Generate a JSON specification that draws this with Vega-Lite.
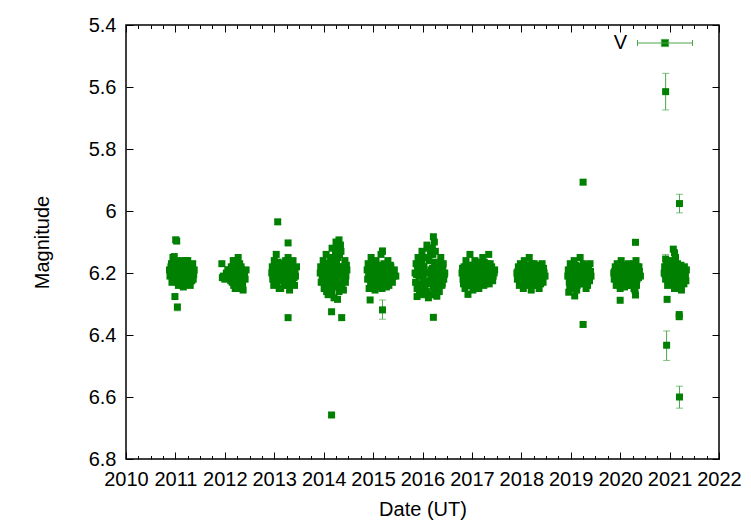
{
  "$schema": "https://vega.github.io/schema/vega-lite/v6.json",
  "width": 593,
  "height": 434,
  "autosize": {"type": "none"},
  "padding": {"left": 126, "top": 25, "right": 32, "bottom": 67},
  "background": "white",
  "config": {
    "view": {"stroke": "black", "strokeWidth": 1.5},
    "font": "Liberation Sans",
    "axis": {"domain": false, "grid": false, "tickColor": "black", "tickWidth": 1, "labelColor": "black", "titleColor": "black", "labelFont": "Liberation Sans", "titleFont": "Liberation Sans", "labelFontSize": 20, "titleFontSize": 20, "titleFontWeight": "normal"}
  },
  "data": {"values": [
    {"t":2010.88,"m":6.19},{"t":2010.89,"m":6.21},{"t":2010.90,"m":6.20},{"t":2010.92,"m":6.17},{"t":2010.93,"m":6.23},{"t":2010.95,"m":6.15},{"t":2010.96,"m":6.20},{"t":2010.98,"m":6.18},{"t":2011.00,"m":6.22},{"t":2011.01,"m":6.19},{"t":2011.03,"m":6.16},{"t":2011.05,"m":6.21},{"t":2011.06,"m":6.24},{"t":2011.08,"m":6.19},{"t":2011.10,"m":6.17},{"t":2011.12,"m":6.22},{"t":2011.14,"m":6.20},{"t":2011.16,"m":6.245},{"t":2011.18,"m":6.18},{"t":2011.20,"m":6.21},{"t":2011.22,"m":6.16},{"t":2011.24,"m":6.23},{"t":2011.26,"m":6.19},{"t":2011.28,"m":6.21},{"t":2011.30,"m":6.24},{"t":2011.32,"m":6.18},{"t":2011.34,"m":6.20},{"t":2011.36,"m":6.22},{"t":2011.38,"m":6.19},{"t":2011.25,"m":6.16},{"t":2011.15,"m":6.24},
    {"t":2010.91,"m":6.18},{"t":2010.94,"m":6.20},{"t":2010.97,"m":6.225},{"t":2010.99,"m":6.20},{"t":2011.02,"m":6.175},{"t":2011.04,"m":6.23},{"t":2011.07,"m":6.20},{"t":2011.09,"m":6.225},{"t":2011.11,"m":6.19},{"t":2011.13,"m":6.16},{"t":2011.17,"m":6.215},{"t":2011.19,"m":6.235},{"t":2011.21,"m":6.19},{"t":2011.23,"m":6.205},{"t":2011.27,"m":6.23},{"t":2011.29,"m":6.175},{"t":2011.31,"m":6.205},{"t":2011.33,"m":6.225},{"t":2011.35,"m":6.17},{"t":2011.37,"m":6.205},
    {"t":2011.006,"m":6.093,"lo":6.085,"hi":6.101},{"t":2011.026,"m":6.097},{"t":2010.977,"m":6.147},{"t":2010.99,"m":6.276},{"t":2011.04,"m":6.31,"lo":6.300,"hi":6.322},
    {"t":2011.94,"m":6.17},{"t":2011.95,"m":6.215},{"t":2011.97,"m":6.21},{"t":2012.00,"m":6.22},{"t":2012.03,"m":6.20},{"t":2012.06,"m":6.19},{"t":2012.10,"m":6.21},{"t":2012.13,"m":6.18},{"t":2012.15,"m":6.23},{"t":2012.17,"m":6.16},{"t":2012.19,"m":6.20},{"t":2012.21,"m":6.25},{"t":2012.23,"m":6.19},{"t":2012.25,"m":6.22},{"t":2012.27,"m":6.15},{"t":2012.29,"m":6.24},{"t":2012.31,"m":6.20},{"t":2012.33,"m":6.18},{"t":2012.35,"m":6.22},{"t":2012.37,"m":6.255},{"t":2012.40,"m":6.21},{"t":2012.43,"m":6.19},{"t":2012.30,"m":6.17},{"t":2012.26,"m":6.25},
    {"t":2012.08,"m":6.19},{"t":2012.12,"m":6.225},{"t":2012.16,"m":6.20},{"t":2012.20,"m":6.175},{"t":2012.24,"m":6.205},{"t":2012.28,"m":6.23},{"t":2012.32,"m":6.21},{"t":2012.34,"m":6.19},{"t":2012.36,"m":6.235},{"t":2012.38,"m":6.20},{"t":2012.41,"m":6.22},{"t":2012.22,"m":6.16},{"t":2012.18,"m":6.24},
    {"t":2012.95,"m":6.20},{"t":2012.96,"m":6.18},{"t":2012.97,"m":6.22},{"t":2012.99,"m":6.24},{"t":2013.00,"m":6.16},{"t":2013.02,"m":6.20},{"t":2013.04,"m":6.14},{"t":2013.05,"m":6.23},{"t":2013.07,"m":6.19},{"t":2013.09,"m":6.21},{"t":2013.11,"m":6.17},{"t":2013.13,"m":6.25},{"t":2013.15,"m":6.20},{"t":2013.17,"m":6.22},{"t":2013.19,"m":6.18},{"t":2013.21,"m":6.24},{"t":2013.23,"m":6.16},{"t":2013.25,"m":6.21},{"t":2013.27,"m":6.19},{"t":2013.29,"m":6.23},{"t":2013.31,"m":6.255},{"t":2013.33,"m":6.20},{"t":2013.35,"m":6.17},{"t":2013.37,"m":6.22},{"t":2013.39,"m":6.19},{"t":2013.41,"m":6.24},{"t":2013.43,"m":6.21},{"t":2013.45,"m":6.18},{"t":2013.10,"m":6.25},{"t":2013.28,"m":6.15},
    {"t":2012.98,"m":6.21},{"t":2013.01,"m":6.185},{"t":2013.03,"m":6.23},{"t":2013.06,"m":6.205},{"t":2013.08,"m":6.165},{"t":2013.12,"m":6.195},{"t":2013.14,"m":6.225},{"t":2013.16,"m":6.17},{"t":2013.18,"m":6.205},{"t":2013.20,"m":6.23},{"t":2013.22,"m":6.195},{"t":2013.24,"m":6.24},{"t":2013.26,"m":6.175},{"t":2013.30,"m":6.21},{"t":2013.32,"m":6.18},{"t":2013.34,"m":6.235},{"t":2013.36,"m":6.20},{"t":2013.38,"m":6.16},{"t":2013.40,"m":6.215},{"t":2013.42,"m":6.19},
    {"t":2013.07,"m":6.035,"lo":6.027,"hi":6.043},{"t":2013.28,"m":6.103},{"t":2013.28,"m":6.344},
    {"t":2013.93,"m":6.20},{"t":2013.94,"m":6.18},{"t":2013.95,"m":6.23},{"t":2013.97,"m":6.21},{"t":2013.99,"m":6.16},{"t":2014.01,"m":6.25},{"t":2014.03,"m":6.19},{"t":2014.05,"m":6.14},{"t":2014.07,"m":6.22},{"t":2014.09,"m":6.27},{"t":2014.11,"m":6.20},{"t":2014.13,"m":6.17},{"t":2014.15,"m":6.24},{"t":2014.17,"m":6.12},{"t":2014.19,"m":6.21},{"t":2014.21,"m":6.28},{"t":2014.23,"m":6.18},{"t":2014.25,"m":6.10},{"t":2014.27,"m":6.23},{"t":2014.29,"m":6.15},{"t":2014.31,"m":6.26},{"t":2014.33,"m":6.20},{"t":2014.35,"m":6.13},{"t":2014.37,"m":6.24},{"t":2014.39,"m":6.18},{"t":2014.41,"m":6.22},{"t":2014.43,"m":6.16},{"t":2014.45,"m":6.21},{"t":2014.47,"m":6.19},{"t":2014.12,"m":6.26},{"t":2014.28,"m":6.285},{"t":2014.20,"m":6.16},
    {"t":2013.96,"m":6.195},{"t":2013.98,"m":6.225},{"t":2014.00,"m":6.18},{"t":2014.02,"m":6.215},{"t":2014.04,"m":6.245},{"t":2014.06,"m":6.17},{"t":2014.08,"m":6.20},{"t":2014.10,"m":6.235},{"t":2014.14,"m":6.19},{"t":2014.16,"m":6.265},{"t":2014.18,"m":6.225},{"t":2014.22,"m":6.20},{"t":2014.24,"m":6.245},{"t":2014.26,"m":6.165},{"t":2014.28,"m":6.12},{"t":2014.30,"m":6.21},{"t":2014.32,"m":6.14},{"t":2014.34,"m":6.235},{"t":2014.36,"m":6.18},{"t":2014.38,"m":6.20},{"t":2014.40,"m":6.255},{"t":2014.42,"m":6.19},{"t":2014.44,"m":6.23},{"t":2014.46,"m":6.175},{"t":2014.34,"m":6.11},{"t":2014.24,"m":6.14},{"t":2014.14,"m":6.15},{"t":2014.06,"m":6.26},
    {"t":2014.31,"m":6.094,"lo":6.083,"hi":6.104},{"t":2014.16,"m":6.325},{"t":2014.365,"m":6.344,"lo":6.336,"hi":6.352},{"t":2014.16,"m":6.658,"lo":6.651,"hi":6.665},
    {"t":2014.88,"m":6.19},{"t":2014.89,"m":6.22},{"t":2014.90,"m":6.17},{"t":2014.92,"m":6.25},{"t":2014.94,"m":6.20},{"t":2014.96,"m":6.15},{"t":2014.98,"m":6.23},{"t":2015.00,"m":6.18},{"t":2015.02,"m":6.21},{"t":2015.04,"m":6.255},{"t":2015.06,"m":6.16},{"t":2015.08,"m":6.20},{"t":2015.10,"m":6.24},{"t":2015.12,"m":6.19},{"t":2015.14,"m":6.22},{"t":2015.16,"m":6.14},{"t":2015.18,"m":6.25},{"t":2015.20,"m":6.20},{"t":2015.22,"m":6.17},{"t":2015.24,"m":6.23},{"t":2015.26,"m":6.19},{"t":2015.28,"m":6.21},{"t":2015.30,"m":6.16},{"t":2015.32,"m":6.24},{"t":2015.34,"m":6.20},{"t":2015.36,"m":6.18},{"t":2015.38,"m":6.22},{"t":2015.40,"m":6.20},{"t":2015.43,"m":6.19},{"t":2015.46,"m":6.21},
    {"t":2014.91,"m":6.205},{"t":2014.93,"m":6.18},{"t":2014.95,"m":6.235},{"t":2014.97,"m":6.195},{"t":2014.99,"m":6.21},{"t":2015.01,"m":6.235},{"t":2015.03,"m":6.17},{"t":2015.05,"m":6.20},{"t":2015.07,"m":6.225},{"t":2015.09,"m":6.18},{"t":2015.11,"m":6.21},{"t":2015.13,"m":6.245},{"t":2015.15,"m":6.175},{"t":2015.17,"m":6.205},{"t":2015.21,"m":6.235},{"t":2015.23,"m":6.19},{"t":2015.25,"m":6.215},{"t":2015.27,"m":6.245},{"t":2015.29,"m":6.185},{"t":2015.31,"m":6.20},{"t":2015.33,"m":6.225},{"t":2015.35,"m":6.175},{"t":2015.37,"m":6.205},{"t":2015.39,"m":6.23},{"t":2015.42,"m":6.21},
    {"t":2015.19,"m":6.13,"lo":6.118,"hi":6.14},{"t":2014.94,"m":6.287},{"t":2015.19,"m":6.319,"lo":6.287,"hi":6.349},
    {"t":2015.85,"m":6.20},{"t":2015.86,"m":6.23},{"t":2015.87,"m":6.17},{"t":2015.89,"m":6.25},{"t":2015.91,"m":6.15},{"t":2015.93,"m":6.21},{"t":2015.95,"m":6.19},{"t":2015.97,"m":6.265},{"t":2015.99,"m":6.13},{"t":2016.01,"m":6.22},{"t":2016.03,"m":6.18},{"t":2016.05,"m":6.25},{"t":2016.07,"m":6.20},{"t":2016.09,"m":6.11},{"t":2016.11,"m":6.23},{"t":2016.13,"m":6.16},{"t":2016.15,"m":6.27},{"t":2016.17,"m":6.19},{"t":2016.19,"m":6.22},{"t":2016.21,"m":6.14},{"t":2016.23,"m":6.25},{"t":2016.25,"m":6.18},{"t":2016.27,"m":6.21},{"t":2016.29,"m":6.275},{"t":2016.31,"m":6.17},{"t":2016.33,"m":6.23},{"t":2016.35,"m":6.20},{"t":2016.37,"m":6.15},{"t":2016.39,"m":6.24},{"t":2016.41,"m":6.19},{"t":2016.43,"m":6.22},{"t":2016.45,"m":6.20},{"t":2016.10,"m":6.12},{"t":2016.28,"m":6.26},{"t":2016.18,"m":6.27},
    {"t":2015.88,"m":6.205},{"t":2015.90,"m":6.18},{"t":2015.92,"m":6.235},{"t":2015.94,"m":6.255},{"t":2015.96,"m":6.20},{"t":2015.98,"m":6.165},{"t":2016.00,"m":6.24},{"t":2016.02,"m":6.195},{"t":2016.04,"m":6.15},{"t":2016.06,"m":6.225},{"t":2016.08,"m":6.26},{"t":2016.12,"m":6.20},{"t":2016.14,"m":6.235},{"t":2016.16,"m":6.14},{"t":2016.18,"m":6.21},{"t":2016.20,"m":6.185},{"t":2016.22,"m":6.245},{"t":2016.24,"m":6.165},{"t":2016.26,"m":6.225},{"t":2016.28,"m":6.195},{"t":2016.30,"m":6.24},{"t":2016.32,"m":6.20},{"t":2016.34,"m":6.26},{"t":2016.36,"m":6.18},{"t":2016.38,"m":6.215},{"t":2016.40,"m":6.235},{"t":2016.42,"m":6.17},{"t":2016.44,"m":6.205},{"t":2016.20,"m":6.12},{"t":2016.24,"m":6.10},{"t":2016.26,"m":6.13},{"t":2015.98,"m":6.27},{"t":2016.12,"m":6.28},
    {"t":2016.22,"m":6.083},{"t":2016.22,"m":6.343},{"t":2015.89,"m":6.276},
    {"t":2016.80,"m":6.20},{"t":2016.82,"m":6.22},{"t":2016.84,"m":6.18},{"t":2016.86,"m":6.25},{"t":2016.88,"m":6.16},{"t":2016.90,"m":6.21},{"t":2016.92,"m":6.19},{"t":2016.94,"m":6.24},{"t":2016.96,"m":6.14},{"t":2016.98,"m":6.22},{"t":2017.00,"m":6.18},{"t":2017.02,"m":6.255},{"t":2017.04,"m":6.20},{"t":2017.06,"m":6.16},{"t":2017.08,"m":6.23},{"t":2017.10,"m":6.19},{"t":2017.12,"m":6.21},{"t":2017.14,"m":6.25},{"t":2017.16,"m":6.17},{"t":2017.18,"m":6.22},{"t":2017.20,"m":6.20},{"t":2017.22,"m":6.15},{"t":2017.24,"m":6.24},{"t":2017.26,"m":6.19},{"t":2017.28,"m":6.21},{"t":2017.30,"m":6.17},{"t":2017.32,"m":6.23},{"t":2017.34,"m":6.14},{"t":2017.36,"m":6.20},{"t":2017.38,"m":6.22},{"t":2017.40,"m":6.18},{"t":2017.43,"m":6.21},{"t":2017.46,"m":6.19},
    {"t":2016.81,"m":6.185},{"t":2016.83,"m":6.235},{"t":2016.85,"m":6.205},{"t":2016.87,"m":6.22},{"t":2016.89,"m":6.185},{"t":2016.91,"m":6.24},{"t":2016.93,"m":6.215},{"t":2016.95,"m":6.175},{"t":2016.97,"m":6.20},{"t":2016.99,"m":6.24},{"t":2017.01,"m":6.21},{"t":2017.03,"m":6.175},{"t":2017.05,"m":6.23},{"t":2017.07,"m":6.205},{"t":2017.09,"m":6.165},{"t":2017.11,"m":6.24},{"t":2017.13,"m":6.185},{"t":2017.15,"m":6.215},{"t":2017.17,"m":6.235},{"t":2017.19,"m":6.18},{"t":2017.21,"m":6.225},{"t":2017.23,"m":6.195},{"t":2017.25,"m":6.165},{"t":2017.27,"m":6.235},{"t":2017.29,"m":6.20},{"t":2017.31,"m":6.215},{"t":2017.33,"m":6.185},{"t":2017.35,"m":6.235},{"t":2017.37,"m":6.17},{"t":2017.39,"m":6.205},{"t":2017.42,"m":6.225},{"t":2017.45,"m":6.20},
    {"t":2016.92,"m":6.269},
    {"t":2017.91,"m":6.20},{"t":2017.92,"m":6.22},{"t":2017.94,"m":6.18},{"t":2017.96,"m":6.24},{"t":2017.98,"m":6.17},{"t":2018.00,"m":6.21},{"t":2018.02,"m":6.19},{"t":2018.04,"m":6.25},{"t":2018.06,"m":6.16},{"t":2018.08,"m":6.22},{"t":2018.10,"m":6.20},{"t":2018.12,"m":6.18},{"t":2018.14,"m":6.23},{"t":2018.16,"m":6.15},{"t":2018.18,"m":6.21},{"t":2018.20,"m":6.255},{"t":2018.22,"m":6.19},{"t":2018.24,"m":6.22},{"t":2018.26,"m":6.17},{"t":2018.28,"m":6.24},{"t":2018.30,"m":6.20},{"t":2018.32,"m":6.18},{"t":2018.34,"m":6.22},{"t":2018.36,"m":6.25},{"t":2018.38,"m":6.19},{"t":2018.40,"m":6.21},{"t":2018.42,"m":6.17},{"t":2018.44,"m":6.23},{"t":2018.46,"m":6.20},{"t":2018.48,"m":6.21},
    {"t":2017.93,"m":6.195},{"t":2017.95,"m":6.21},{"t":2017.97,"m":6.23},{"t":2017.99,"m":6.195},{"t":2018.01,"m":6.235},{"t":2018.03,"m":6.175},{"t":2018.05,"m":6.21},{"t":2018.07,"m":6.19},{"t":2018.09,"m":6.24},{"t":2018.11,"m":6.205},{"t":2018.13,"m":6.175},{"t":2018.15,"m":6.22},{"t":2018.17,"m":6.19},{"t":2018.19,"m":6.235},{"t":2018.21,"m":6.17},{"t":2018.23,"m":6.205},{"t":2018.25,"m":6.24},{"t":2018.27,"m":6.195},{"t":2018.29,"m":6.22},{"t":2018.31,"m":6.175},{"t":2018.33,"m":6.235},{"t":2018.35,"m":6.205},{"t":2018.37,"m":6.185},{"t":2018.39,"m":6.235},{"t":2018.41,"m":6.20},{"t":2018.43,"m":6.215},{"t":2018.45,"m":6.185},
    {"t":2018.94,"m":6.21},{"t":2018.95,"m":6.19},{"t":2018.97,"m":6.23},{"t":2018.99,"m":6.17},{"t":2019.01,"m":6.22},{"t":2019.03,"m":6.20},{"t":2019.05,"m":6.25},{"t":2019.07,"m":6.16},{"t":2019.09,"m":6.21},{"t":2019.11,"m":6.19},{"t":2019.13,"m":6.24},{"t":2019.15,"m":6.18},{"t":2019.17,"m":6.22},{"t":2019.19,"m":6.15},{"t":2019.21,"m":6.20},{"t":2019.23,"m":6.23},{"t":2019.25,"m":6.17},{"t":2019.27,"m":6.21},{"t":2019.29,"m":6.19},{"t":2019.31,"m":6.25},{"t":2019.33,"m":6.18},{"t":2019.35,"m":6.22},{"t":2019.37,"m":6.20},{"t":2019.39,"m":6.17},{"t":2019.41,"m":6.21},{"t":2019.12,"m":6.255},
    {"t":2018.96,"m":6.20},{"t":2018.98,"m":6.245},{"t":2019.00,"m":6.195},{"t":2019.02,"m":6.235},{"t":2019.04,"m":6.18},{"t":2019.06,"m":6.215},{"t":2019.08,"m":6.235},{"t":2019.10,"m":6.175},{"t":2019.14,"m":6.205},{"t":2019.16,"m":6.235},{"t":2019.18,"m":6.195},{"t":2019.20,"m":6.225},{"t":2019.22,"m":6.18},{"t":2019.24,"m":6.21},{"t":2019.26,"m":6.235},{"t":2019.28,"m":6.20},{"t":2019.30,"m":6.175},{"t":2019.32,"m":6.215},{"t":2019.34,"m":6.24},{"t":2019.36,"m":6.19},{"t":2019.38,"m":6.225},{"t":2019.40,"m":6.195},
    {"t":2019.25,"m":5.907,"lo":5.900,"hi":5.914},{"t":2019.25,"m":6.366,"lo":6.358,"hi":6.374},{"t":2019.08,"m":6.274},{"t":2018.96,"m":6.262},
    {"t":2019.87,"m":6.20},{"t":2019.88,"m":6.22},{"t":2019.90,"m":6.18},{"t":2019.92,"m":6.24},{"t":2019.94,"m":6.17},{"t":2019.96,"m":6.21},{"t":2019.98,"m":6.19},{"t":2020.00,"m":6.25},{"t":2020.02,"m":6.16},{"t":2020.04,"m":6.22},{"t":2020.06,"m":6.20},{"t":2020.08,"m":6.18},{"t":2020.10,"m":6.23},{"t":2020.12,"m":6.19},{"t":2020.14,"m":6.21},{"t":2020.16,"m":6.17},{"t":2020.18,"m":6.24},{"t":2020.20,"m":6.20},{"t":2020.22,"m":6.22},{"t":2020.24,"m":6.18},{"t":2020.26,"m":6.21},{"t":2020.28,"m":6.25},{"t":2020.30,"m":6.19},{"t":2020.32,"m":6.16},{"t":2020.34,"m":6.22},{"t":2020.36,"m":6.20},{"t":2020.38,"m":6.18},{"t":2020.41,"m":6.21},{"t":2020.30,"m":6.255},
    {"t":2019.89,"m":6.195},{"t":2019.91,"m":6.215},{"t":2019.93,"m":6.20},{"t":2019.95,"m":6.235},{"t":2019.97,"m":6.18},{"t":2019.99,"m":6.215},{"t":2020.01,"m":6.20},{"t":2020.03,"m":6.235},{"t":2020.05,"m":6.18},{"t":2020.07,"m":6.21},{"t":2020.09,"m":6.245},{"t":2020.11,"m":6.20},{"t":2020.13,"m":6.175},{"t":2020.15,"m":6.23},{"t":2020.17,"m":6.195},{"t":2020.19,"m":6.215},{"t":2020.21,"m":6.18},{"t":2020.23,"m":6.24},{"t":2020.25,"m":6.195},{"t":2020.27,"m":6.17},{"t":2020.29,"m":6.22},{"t":2020.31,"m":6.20},{"t":2020.33,"m":6.24},{"t":2020.35,"m":6.18},{"t":2020.37,"m":6.215},{"t":2020.39,"m":6.195},
    {"t":2020.31,"m":6.101},{"t":2020.00,"m":6.288},{"t":2020.31,"m":6.271},
    {"t":2020.89,"m":6.20},{"t":2020.90,"m":6.18},{"t":2020.92,"m":6.22},{"t":2020.94,"m":6.17},{"t":2020.96,"m":6.24},{"t":2020.98,"m":6.19},{"t":2021.00,"m":6.21},{"t":2021.02,"m":6.16},{"t":2021.04,"m":6.23},{"t":2021.06,"m":6.20},{"t":2021.08,"m":6.18},{"t":2021.10,"m":6.25},{"t":2021.12,"m":6.19},{"t":2021.14,"m":6.22},{"t":2021.16,"m":6.17},{"t":2021.18,"m":6.21},{"t":2021.20,"m":6.24},{"t":2021.22,"m":6.19},{"t":2021.24,"m":6.255},{"t":2021.26,"m":6.20},{"t":2021.28,"m":6.22},{"t":2021.30,"m":6.18},{"t":2021.32,"m":6.21},{"t":2021.34,"m":6.19},{"t":2021.12,"m":6.15},
    {"t":2020.91,"m":6.205},{"t":2020.93,"m":6.19},{"t":2020.95,"m":6.215},{"t":2020.97,"m":6.18},{"t":2020.99,"m":6.225},{"t":2021.01,"m":6.195},{"t":2021.03,"m":6.21},{"t":2021.05,"m":6.18},{"t":2021.07,"m":6.235},{"t":2021.09,"m":6.205},{"t":2021.11,"m":6.17},{"t":2021.13,"m":6.235},{"t":2021.15,"m":6.20},{"t":2021.17,"m":6.24},{"t":2021.19,"m":6.19},{"t":2021.21,"m":6.215},{"t":2021.23,"m":6.175},{"t":2021.25,"m":6.225},{"t":2021.27,"m":6.195},{"t":2021.29,"m":6.235},{"t":2021.31,"m":6.20},{"t":2021.33,"m":6.225},
    {"t":2020.92,"m":5.615,"lo":5.556,"hi":5.674},{"t":2020.92,"m":6.155,"lo":6.14,"hi":6.17},{"t":2021.075,"m":6.123},{"t":2021.10,"m":6.135},{"t":2021.20,"m":5.976,"lo":5.946,"hi":6.006},{"t":2021.20,"m":6.60,"lo":6.565,"hi":6.636},{"t":2020.95,"m":6.285},{"t":2021.195,"m":6.341,"lo":6.33,"hi":6.35},{"t":2021.195,"m":6.334},{"t":2020.94,"m":6.433,"lo":6.387,"hi":6.482}
  ]},
  "resolve": {"axis": {"x": "independent", "y": "independent"}},
  "layer": [
    {
      "transform": [{"filter": "isValid(datum.lo)"}],
      "mark": {"type": "rule", "color": "#4ca64c", "strokeWidth": 1},
      "encoding": {
        "x": {"field": "t", "type": "quantitative", "scale": {"domain": [2010, 2022], "nice": false, "zero": false},
              "axis": {"orient": "top", "title": null, "labels": false, "values": [2010,2011,2012,2013,2014,2015,2016,2017,2018,2019,2020,2021,2022], "tickSize": -7}},
        "y": {"field": "lo", "type": "quantitative", "scale": {"domain": [5.4, 6.8], "reverse": true, "nice": false, "zero": false},
              "axis": {"orient": "right", "title": null, "labels": false, "values": [5.4,5.6,5.8,6,6.2,6.4,6.6,6.8], "tickSize": -7}},
        "y2": {"field": "hi"}
      }
    },
    {
      "transform": [{"filter": "isValid(datum.lo)"}],
      "mark": {"type": "tick", "orient": "horizontal", "color": "#4ca64c", "size": 7, "thickness": 1},
      "encoding": {
        "x": {"field": "t", "type": "quantitative", "scale": {"domain": [2010, 2022], "nice": false, "zero": false},
              "axis": {"orient": "bottom", "title": null, "labels": false, "tickSize": -3.5,
                       "values": [2010.25,2010.5,2010.75,2011.25,2011.5,2011.75,2012.25,2012.5,2012.75,2013.25,2013.5,2013.75,2014.25,2014.5,2014.75,2015.25,2015.5,2015.75,2016.25,2016.5,2016.75,2017.25,2017.5,2017.75,2018.25,2018.5,2018.75,2019.25,2019.5,2019.75,2020.25,2020.5,2020.75,2021.25,2021.5,2021.75]}},
        "y": {"field": "lo", "type": "quantitative", "scale": {"domain": [5.4, 6.8], "reverse": true, "nice": false, "zero": false}, "axis": null}
      }
    },
    {
      "transform": [{"filter": "isValid(datum.lo)"}],
      "mark": {"type": "tick", "orient": "horizontal", "color": "#4ca64c", "size": 7, "thickness": 1},
      "encoding": {
        "x": {"field": "t", "type": "quantitative", "scale": {"domain": [2010, 2022], "nice": false, "zero": false},
              "axis": {"orient": "top", "title": null, "labels": false, "tickSize": -3.5,
                       "values": [2010.25,2010.5,2010.75,2011.25,2011.5,2011.75,2012.25,2012.5,2012.75,2013.25,2013.5,2013.75,2014.25,2014.5,2014.75,2015.25,2015.5,2015.75,2016.25,2016.5,2016.75,2017.25,2017.5,2017.75,2018.25,2018.5,2018.75,2019.25,2019.5,2019.75,2020.25,2020.5,2020.75,2021.25,2021.5,2021.75]}},
        "y": {"field": "hi", "type": "quantitative", "scale": {"domain": [5.4, 6.8], "reverse": true, "nice": false, "zero": false}, "axis": null}
      }
    },
    {
      "mark": {"type": "square", "size": 49, "opacity": 1, "filled": true},
      "encoding": {
        "x": {"field": "t", "type": "quantitative", "scale": {"domain": [2010, 2022], "nice": false, "zero": false},
              "axis": {"orient": "bottom", "title": "Date (UT)", "format": "d", "values": [2010,2011,2012,2013,2014,2015,2016,2017,2018,2019,2020,2021,2022], "tickSize": -7, "labelPadding": 17, "titlePadding": 10, "labelFlush": false, "labelOverlap": false}},
        "y": {"field": "m", "type": "quantitative", "scale": {"domain": [5.4, 6.8], "reverse": true, "nice": false, "zero": false},
              "axis": {"orient": "left", "title": "Magnitude", "format": "~g", "values": [5.4,5.6,5.8,6,6.2,6.4,6.6,6.8], "tickSize": -7, "labelPadding": 17, "titlePadding": 36, "labelOverlap": false}},
        "color": {"datum": "V", "scale": {"range": ["#008000"]},
                  "legend": {"orient": "none", "legendX": 511, "legendY": -10, "title": null, "padding": 0,
                             "symbolType": "M-1,0H1M-1,-0.11V0.11M1,-0.11V0.11M-0.13,-0.13H0.13V0.13H-0.13Z",
                             "symbolSize": 3025, "symbolStrokeWidth": 1, "symbolStrokeColor": "#4ca64c",
                             "labelAlign": "right", "labelOffset": -66, "labelFontSize": 20, "labelFont": "Liberation Sans", "labelColor": "black",
                             "encode": {"symbols": {"update": {"stroke": {"value": "#4ca64c"}, "strokeWidth": {"value": 1}, "fill": {"value": "#008000"}, "opacity": {"value": 1}}}}}}
      }
    }
  ]
}
